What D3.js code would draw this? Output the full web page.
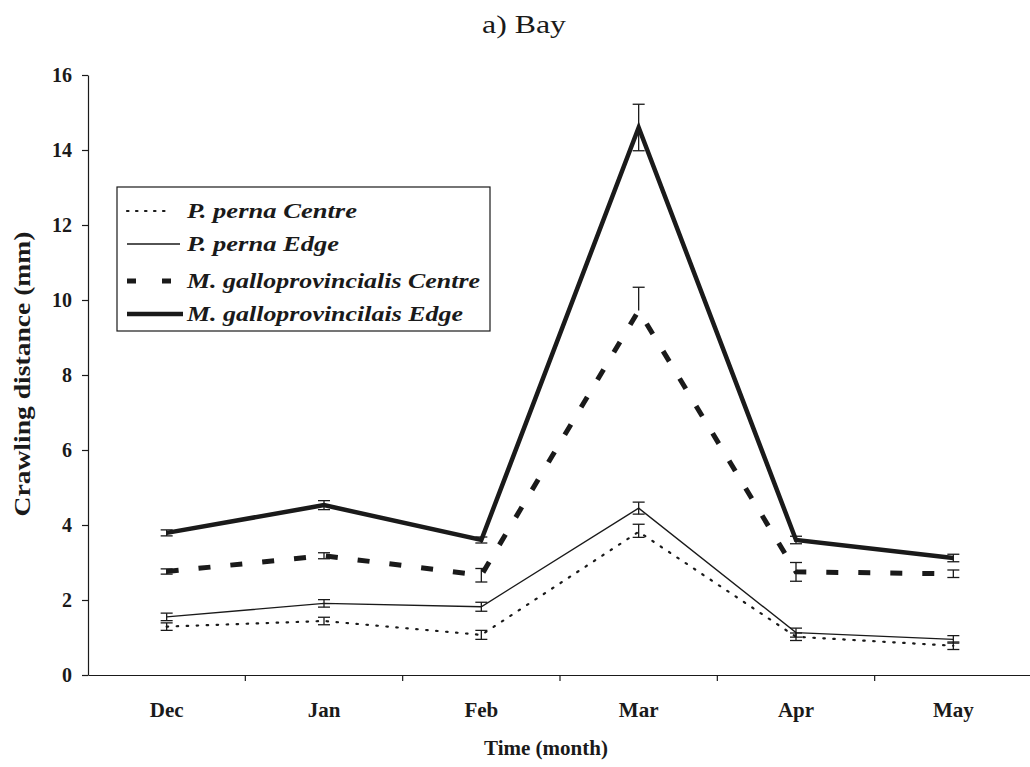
<!DOCTYPE html>
<html>
<head>
<meta charset="utf-8">
<script src="https://cdn.jsdelivr.net/npm/d3@7"></script>
<style>
  html, body { margin: 0; padding: 0; background: #fff; }
  svg { display: block; }
  text { font-family: "Liberation Serif", "Times New Roman", Times, serif; }
</style>
</head>
<body>
<svg id="chart" width="1030" height="767"></svg>
<script>
const months = ["Dec", "Jan", "Feb", "Mar", "Apr", "May"];
const yTicks = [0, 2, 4, 6, 8, 10, 12, 14, 16];

const ppCentre       = [1.29, 1.44, 1.07, 3.82, 1.02, 0.78];
const ppCentreErrUp  = [0.10, 0.10, 0.12, 0.20, 0.10, 0.10];
const ppCentreErrLow = [0.10, 0.10, 0.12, 0.15, 0.10, 0.10];
const ppEdge         = [1.55, 1.91, 1.82, 4.45, 1.13, 0.95];
const ppEdgeErrUp    = [0.10, 0.10, 0.12, 0.16, 0.12, 0.10];
const ppEdgeErrLow   = [0.10, 0.10, 0.12, 0.16, 0.12, 0.10];
const mgCentre       = [2.76, 3.18, 2.66, 9.72, 2.75, 2.70];
const mgCentreErrUp  = [0.07, 0.08, 0.18, 0.62, 0.25, 0.10];
const mgCentreErrLow = [0.07, 0.08, 0.18, 0.00, 0.25, 0.10];
const mgEdge         = [3.79, 4.53, 3.60, 14.6, 3.60, 3.12];
const mgEdgeErrUp    = [0.08, 0.12, 0.08, 0.62, 0.10, 0.10];
const mgEdgeErrLow   = [0.08, 0.12, 0.08, 0.62, 0.10, 0.10];

const seriesNames = ["P. perna Centre", "P. perna Edge", "M. galloprovincialis Centre", "M. galloprovincilais Edge"];

const series = [
  { name: seriesNames[0], values: ppCentre, up: ppCentreErrUp, low: ppCentreErrLow, width: 2.2, dash: "1.5,8.5", cap: "round", legDash: "1.5,7.5", legLen: 170, txtLen: 170 },
  { name: seriesNames[1], values: ppEdge, up: ppEdgeErrUp, low: ppEdgeErrLow, width: 1.4, dash: null, cap: "butt", legDash: null, legLen: 180, txtLen: 152 },
  { name: seriesNames[2], values: mgCentre, up: mgCentreErrUp, low: mgCentreErrLow, width: 5, dash: "12,20", cap: "butt", legDash: "9,26", legLen: 172, txtLen: 293 },
  { name: seriesNames[3], values: mgEdge, up: mgEdgeErrUp, low: mgEdgeErrLow, width: 4.5, dash: null, cap: "butt", legDash: null, legLen: 183, txtLen: 276 }
];

const svg = d3.select("#chart");
const mLeft = 88, mRight = 1032, mTop = 75, mBottom = 675;
const ink = "#1a1a1a";

const x = d3.scaleBand().domain(months).range([mLeft, mRight]);
const y = d3.scaleLinear().domain([0, 16]).range([mBottom, mTop]);

// Title
svg.append("text")
  .attr("x", 524).attr("y", 33)
  .attr("text-anchor", "middle")
  .attr("textLength", 84).attr("lengthAdjust", "spacingAndGlyphs")
  .style("font-size", "25px").style("fill", ink)
  .text("a) Bay");

// Y axis
const yAxis = d3.axisLeft(y).tickValues(yTicks).tickSize(6).tickSizeOuter(0).tickFormat(d3.format("d"));
const gy = svg.append("g").attr("transform", `translate(${mLeft},0)`).call(yAxis);
gy.attr("font-family", null);
gy.select(".domain").attr("stroke", ink).attr("stroke-width", 1.2);
gy.selectAll(".tick line").attr("stroke", ink).attr("stroke-width", 1.2);
gy.selectAll(".tick text")
  .attr("x", -16)
  .style("font-weight", "bold").style("font-size", "20px").style("fill", ink);

// X axis: ticks at band boundaries
const xAxis = d3.axisBottom(x).tickSize(0).tickSizeOuter(0);
const gx = svg.append("g").attr("transform", `translate(0,${mBottom})`).call(xAxis);
gx.attr("font-family", null);
gx.select(".domain").attr("stroke", ink).attr("stroke-width", 1.2);
gx.selectAll(".tick text")
  .attr("y", 27)
  .style("font-weight", "bold").style("font-size", "21px").style("fill", ink);
gx.selectAll(".boundary")
  .data(months.slice(1))
  .join("line")
  .attr("x1", d => x(d)).attr("x2", d => x(d))
  .attr("y1", 0).attr("y2", 6)
  .attr("stroke", ink).attr("stroke-width", 1.2);

// Axis titles
svg.append("text")
  .attr("transform", `translate(30,374) rotate(-90)`)
  .attr("text-anchor", "middle")
  .attr("textLength", 285).attr("lengthAdjust", "spacingAndGlyphs")
  .style("font-weight", "bold").style("font-size", "23px").style("fill", ink)
  .text("Crawling distance (mm)");

svg.append("text")
  .attr("x", 546).attr("y", 755)
  .attr("text-anchor", "middle")
  .style("font-weight", "bold").style("font-size", "21px").style("fill", ink)
  .text("Time (month)");

// Lines
const cx = (i) => x(months[i]) + x.bandwidth() / 2;
const line = d3.line()
  .x((d, i) => cx(i))
  .y(d => y(d));

series.forEach(s => {
  svg.append("path")
    .datum(s.values)
    .attr("d", line)
    .attr("fill", "none")
    .attr("stroke", ink)
    .attr("stroke-width", s.width)
    .attr("stroke-linecap", s.cap)
    .attr("stroke-linejoin", "miter")
    .attr("stroke-dasharray", s.dash);

  // Error bars
  const g = svg.append("g");
  const capW = 6;
  s.values.forEach((v, i) => {
    const lo = v - s.low[i], hi = v + s.up[i];
    g.append("line").attr("x1", cx(i)).attr("x2", cx(i))
      .attr("y1", y(lo)).attr("y2", y(hi))
      .attr("stroke", ink).attr("stroke-width", 1.3);
    const caps = [hi];
    if (s.low[i] > 0) caps.push(lo);
    caps.forEach(t => {
      g.append("line").attr("x1", cx(i) - capW).attr("x2", cx(i) + capW)
        .attr("y1", y(t)).attr("y2", y(t))
        .attr("stroke", ink).attr("stroke-width", 1.3);
    });
  });
});

// Legend
const lg = svg.append("g");
lg.append("rect")
  .attr("x", 117).attr("y", 187).attr("width", 373).attr("height", 144)
  .attr("fill", "#fff").attr("stroke", ink).attr("stroke-width", 1.2);
const legBase = [218, 251, 288, 321];
series.forEach((s, i) => {
  const ly = legBase[i] - 7;
  lg.append("line")
    .attr("x1", 127).attr("x2", s.legLen)
    .attr("y1", ly).attr("y2", ly)
    .attr("stroke", ink)
    .attr("stroke-width", s.width)
    .attr("stroke-linecap", s.cap)
    .attr("stroke-dasharray", s.legDash);
  lg.append("text")
    .attr("x", 187).attr("y", legBase[i])
    .attr("textLength", s.txtLen).attr("lengthAdjust", "spacingAndGlyphs")
    .style("font-weight", "bold").style("font-style", "italic")
    .style("font-size", "22px").style("fill", ink)
    .text(s.name);
});
</script>
</body>
</html>
